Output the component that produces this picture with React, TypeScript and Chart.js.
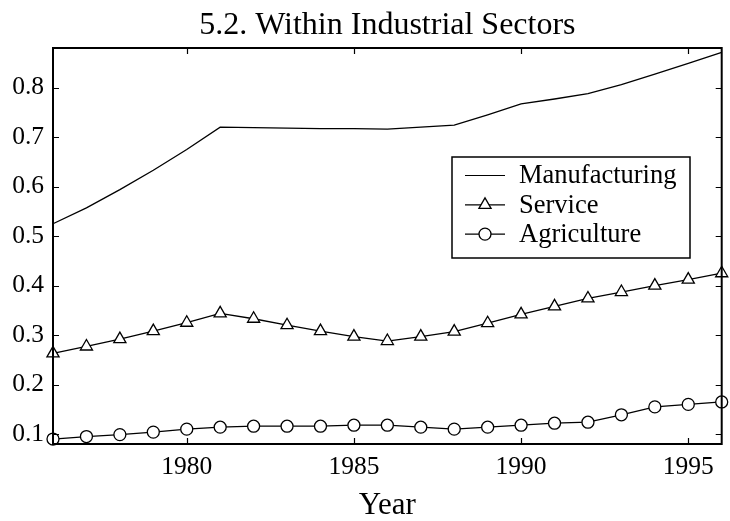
import React, { useEffect, useRef } from "react";
import { Chart, registerables } from "chart.js";

Chart.register(...registerables);

const years = [1976, 1977, 1978, 1979, 1980, 1981, 1982, 1983, 1984, 1985, 1986, 1987, 1988, 1989, 1990, 1991, 1992, 1993, 1994, 1995, 1996];
const manufacturing = [0.525, 0.557, 0.594, 0.633, 0.675, 0.72, 0.719, 0.718, 0.717, 0.717, 0.716, 0.72, 0.724, 0.745, 0.767, 0.777, 0.788, 0.806, 0.827, 0.849, 0.871];
const service = [0.263, 0.277, 0.292, 0.308, 0.325, 0.344, 0.333, 0.32, 0.308, 0.297, 0.288, 0.297, 0.307, 0.324, 0.342, 0.358, 0.374, 0.387, 0.4, 0.412, 0.425];
const agriculture = [0.09, 0.095, 0.099, 0.104, 0.11, 0.114, 0.116, 0.116, 0.116, 0.118, 0.118, 0.114, 0.11, 0.114, 0.118, 0.122, 0.124, 0.139, 0.155, 0.16, 0.165];
const xTicks = [1980, 1985, 1990, 1995];
const yTicks = [0.1, 0.2, 0.3, 0.4, 0.5, 0.6, 0.7, 0.8];
const seriesNames = ["Manufacturing", "Service", "Agriculture"];

const FONT = "'Liberation Serif', 'Times New Roman', serif";

const framePlugin = {
  id: "frame",
  afterDatasetsDraw(chart: any) {
    const { ctx, chartArea } = chart;
    const { left, right, top, bottom } = chartArea;
    const x = chart.scales.x;
    const y = chart.scales.y;
    ctx.save();
    ctx.strokeStyle = "#000";
    ctx.lineWidth = 2;
    ctx.strokeRect(left, top, right - left, bottom - top);
    ctx.lineWidth = 1.2;
    ctx.beginPath();
    const tl = 6;
    x.ticks.forEach((t: any) => {
      const px = Math.round(x.getPixelForValue(t.value)) + 0.5;
      ctx.moveTo(px, bottom);
      ctx.lineTo(px, bottom - tl);
      ctx.moveTo(px, top);
      ctx.lineTo(px, top + tl);
    });
    y.ticks.forEach((t: any) => {
      const py = Math.round(y.getPixelForValue(t.value)) + 0.5;
      ctx.moveTo(left, py);
      ctx.lineTo(left + tl, py);
      ctx.moveTo(right, py);
      ctx.lineTo(right - tl, py);
    });
    ctx.stroke();
    ctx.restore();
  },
};

const legendPlugin = {
  id: "boxLegend",
  afterDraw(chart: any) {
    const { ctx, chartArea } = chart;
    const bx = chartArea.left + 399;
    const by = chartArea.top + 109;
    const bw = 238;
    const bh = 101;
    ctx.save();
    ctx.fillStyle = "#fff";
    ctx.fillRect(bx, by, bw, bh);
    ctx.strokeStyle = "#000";
    ctx.lineWidth = 1.5;
    ctx.strokeRect(bx, by, bw, bh);
    chart.data.datasets.forEach((ds: any, i: number) => {
      const ry = by + 18.5 + i * 29.3;
      ctx.strokeStyle = "#000";
      ctx.lineWidth = 1.2;
      ctx.beginPath();
      ctx.moveTo(bx + 13, ry);
      ctx.lineTo(bx + 53, ry);
      ctx.stroke();
      if (ds.pointRadius > 0) {
        ctx.fillStyle = "#fff";
        ctx.lineWidth = 1.3;
        ctx.beginPath();
        if (ds.pointStyle === "circle") {
          ctx.arc(bx + 33, ry, 6, 0, Math.PI * 2);
        } else {
          const r = 7;
          ctx.moveTo(bx + 33, ry - r);
          ctx.lineTo(bx + 33 + r * Math.sin((2 * Math.PI) / 3), ry - r * Math.cos((2 * Math.PI) / 3));
          ctx.lineTo(bx + 33 + r * Math.sin((4 * Math.PI) / 3), ry - r * Math.cos((4 * Math.PI) / 3));
          ctx.closePath();
        }
        ctx.fill();
        ctx.stroke();
      }
      ctx.fillStyle = "#000";
      ctx.font = `26.5px ${FONT}`;
      ctx.textBaseline = "middle";
      ctx.textAlign = "left";
      ctx.fillText(ds.label, bx + 67, ry + 1);
    });
    ctx.restore();
  },
};

export default function App() {
  const ref = useRef<HTMLCanvasElement>(null);
  useEffect(() => {
    document.body.style.margin = "0";
    const canvas = ref.current!;
    const mk = (arr: number[]) => years.map((yr, i) => ({ x: yr, y: arr[i] }));
    const chart = new Chart(canvas, {
      type: "line",
      data: {
        datasets: [
          {
            label: seriesNames[0],
            data: mk(manufacturing),
            borderColor: "#000",
            borderWidth: 1.3,
            pointRadius: 0,
            tension: 0,
            clip: false as any,
          },
          {
            label: seriesNames[1],
            data: mk(service),
            borderColor: "#000",
            borderWidth: 1.3,
            pointStyle: "triangle",
            pointRadius: 7,
            pointBackgroundColor: "#fff",
            pointBorderColor: "#000",
            pointBorderWidth: 1.3,
            tension: 0,
            clip: false as any,
          },
          {
            label: seriesNames[2],
            data: mk(agriculture),
            borderColor: "#000",
            borderWidth: 1.3,
            pointStyle: "circle",
            pointRadius: 6,
            pointBackgroundColor: "#fff",
            pointBorderColor: "#000",
            pointBorderWidth: 1.3,
            tension: 0,
            clip: false as any,
          },
        ],
      },
      options: {
        responsive: false,
        animation: false,
        devicePixelRatio: 1,
        layout: { padding: { left: 0, right: 4, top: 0, bottom: 0 } },
        plugins: {
          legend: { display: false },
          tooltip: { enabled: false },
          title: {
            display: true,
            text: "5.2. Within Industrial Sectors",
            color: "#000",
            fullSize: false,
            font: { family: FONT, size: 32, weight: "normal", lineHeight: 1.2 },
            padding: { top: 6, bottom: 3.6 },
          },
        },
        scales: {
          x: {
            type: "linear",
            min: 1976,
            max: 1996,
            afterBuildTicks: (s: any) => {
              s.ticks = xTicks.map((v) => ({ value: v }));
            },
            afterFit: (s: any) => {
              s.height = 77;
            },
            grid: { display: false, drawTicks: false },
            border: { display: false },
            ticks: {
              color: "#000",
              font: { family: FONT, size: 25.5 },
              padding: 8,
              maxRotation: 0,
              callback: (v: any) => String(v),
            },
            title: {
              display: true,
              text: "Year",
              color: "#000",
              font: { family: FONT, size: 31 },
              padding: { top: 0, bottom: -3 },
            },
          },
          y: {
            type: "linear",
            min: 0.08,
            max: 0.88,
            afterBuildTicks: (s: any) => {
              s.ticks = yTicks.map((v) => ({ value: v }));
            },
            afterFit: (s: any) => {
              s.width = 53;
            },
            grid: { display: false, drawTicks: false },
            border: { display: false },
            ticks: {
              color: "#000",
              font: { family: FONT, size: 25.5 },
              padding: 9,
              callback: (v: any) => Number(v).toFixed(1),
            },
          },
        },
      },
      plugins: [framePlugin, legendPlugin],
    } as any);
    return () => chart.destroy();
  }, []);
  return (
    <div style={{ position: "absolute", left: 0, top: 0, width: 730, height: 521, background: "#fff" }}>
      <canvas ref={ref} width={730} height={521} />
    </div>
  );
}
